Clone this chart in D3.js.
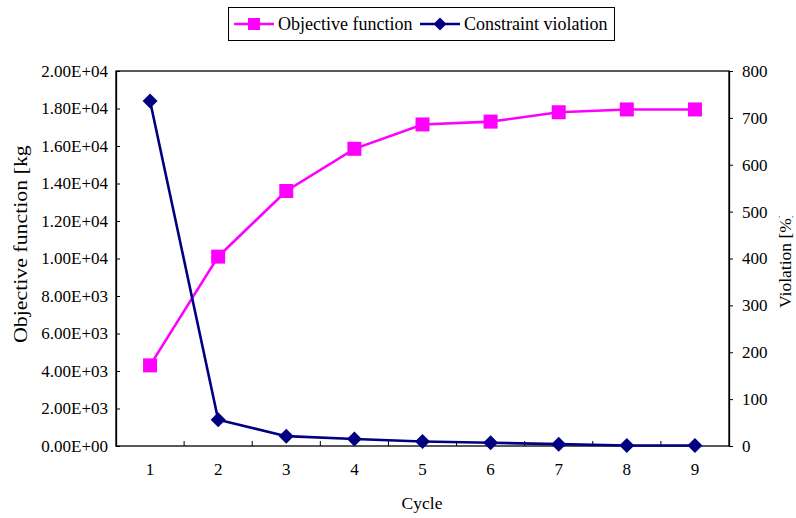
<!DOCTYPE html>
<html><head><meta charset="utf-8">
<script src="https://cdn.jsdelivr.net/npm/d3@7"></script>
<style>body{margin:0;background:#fff}svg text{font-family:'Liberation Serif','Times New Roman',serif;fill:#000}</style>
</head><body><svg id="c" width="796" height="518"></svg>
<script>
const cycles = ["1","2","3","4","5","6","7","8","9"];
const objective = [4300, 10100, 13600, 15850, 17150, 17300, 17800, 17950, 17950];
const violation = [736, 56, 21, 15, 9.5, 7, 4, 1, 1];
const leftTicks = [0,2000,4000,6000,8000,10000,12000,14000,16000,18000,20000];
const rightTicks = [0,100,200,300,400,500,600,700,800];

const svg = d3.select("#c");
const L=116, R=729, T=71, B=446;
const x = d3.scaleBand().domain(cycles).range([L,R]);
const yL = d3.scaleLinear().domain([0,20000]).range([B,T]);
const yR = d3.scaleLinear().domain([0,800]).range([B,T]);
const fmt = v => { const e = v===0?0:Math.floor(Math.log10(v)); const m=(v/Math.pow(10,e)).toFixed(2); return m+"E+"+String(e).padStart(2,"0"); };

// frame
svg.append("rect").attr("x",L).attr("y",T).attr("width",R-L).attr("height",B-T).attr("fill","none").attr("stroke","#000").attr("stroke-width",1.3);

// left axis
const gl = svg.append("g").attr("transform",`translate(${L},0)`)
  .call(d3.axisLeft(yL).tickValues(leftTicks).tickFormat(fmt).tickSizeInner(-4).tickSizeOuter(0).tickPadding(8));
gl.attr("font-family",null).attr("font-size",null);
gl.select(".domain").attr("stroke-width",1.3);
gl.selectAll("text").style("font-size","17px");

// right axis
const gr = svg.append("g").attr("transform",`translate(${R},0)`)
  .call(d3.axisRight(yR).tickValues(rightTicks).tickSizeInner(4).tickSizeOuter(0).tickPadding(9));
gr.attr("font-family",null).attr("font-size",null);
gr.select(".domain").attr("stroke-width",1.3);
gr.selectAll("text").style("font-size","17px");

// bottom axis: ticks at category boundaries pointing up
const gb = svg.append("g").attr("transform",`translate(0,${B})`)
  .call(d3.axisBottom(x).tickSize(0).tickPadding(17));
gb.attr("font-family",null).attr("font-size",null);
gb.select(".domain").remove();
gb.selectAll("text").style("font-size","17px");
svg.append("g").selectAll("line").data(cycles.slice(1)).join("line")
  .attr("x1",d=>x(d)).attr("x2",d=>x(d)).attr("y1",B).attr("y2",B-5).attr("stroke","#000").attr("stroke-width",1);

// titles
svg.append("text").attr("x",422).attr("y",509).attr("text-anchor","middle").style("font-size","17.5px").text("Cycle");
const defs = svg.append("defs");
defs.append("clipPath").attr("id","lc").append("rect").attr("x",0).attr("y",145).attr("width",40).attr("height",220);
defs.append("clipPath").attr("id","rc").append("rect").attr("x",760).attr("y",216).attr("width",40).attr("height",110);
svg.append("g").attr("clip-path","url(#lc)").append("text").attr("transform","translate(27,343) rotate(-90) scale(1.15,1)").attr("text-anchor","start").style("font-size","19px").text("Objective function [kg]");
svg.append("g").attr("clip-path","url(#rc)").append("text").attr("transform","translate(791,308) rotate(-90)").attr("text-anchor","start").style("font-size","17.5px").text("Violation [%]");

const cx = d => x(d)+x.bandwidth()/2;
// objective series
svg.append("path").datum(objective).attr("fill","none").attr("stroke","#FF00FF").attr("stroke-width",2.6)
  .attr("d", d3.line().x((d,i)=>cx(cycles[i])).y(d=>yL(d)));
svg.append("g").selectAll("rect").data(objective).join("rect")
  .attr("x",(d,i)=>cx(cycles[i])-7).attr("y",d=>yL(d)-7).attr("width",14).attr("height",14).attr("fill","#FF00FF");
// violation series
svg.append("path").datum(violation).attr("fill","none").attr("stroke","#000080").attr("stroke-width",2.6)
  .attr("d", d3.line().x((d,i)=>cx(cycles[i])).y(d=>yR(d)));
const diamond = "M0,-7.5L7.5,0L0,7.5L-7.5,0Z";
svg.append("g").selectAll("path").data(violation).join("path")
  .attr("transform",(d,i)=>`translate(${cx(cycles[i])},${yR(d)})`).attr("d",diamond).attr("fill","#000080");

// legend
const lg = svg.append("g");
lg.append("rect").attr("x",228.5).attr("y",7.5).attr("width",386).attr("height",33).attr("fill","#fff").attr("stroke","#000").attr("stroke-width",1);
lg.append("line").attr("x1",234).attr("x2",274).attr("y1",24).attr("y2",24).attr("stroke","#FF00FF").attr("stroke-width",2.6);
lg.append("rect").attr("x",248).attr("y",18).attr("width",12).attr("height",12).attr("fill","#FF00FF");
lg.append("text").attr("x",278).attr("y",30).style("font-size","18px").text("Objective function");
lg.append("line").attr("x1",420).attr("x2",460).attr("y1",24).attr("y2",24).attr("stroke","#000080").attr("stroke-width",2.6);
lg.append("path").attr("transform","translate(440,24)").attr("d","M0,-6.5L6.5,0L0,6.5L-6.5,0Z").attr("fill","#000080");
lg.append("text").attr("x",464).attr("y",30).style("font-size","18px").text("Constraint violation");
</script></body></html>
